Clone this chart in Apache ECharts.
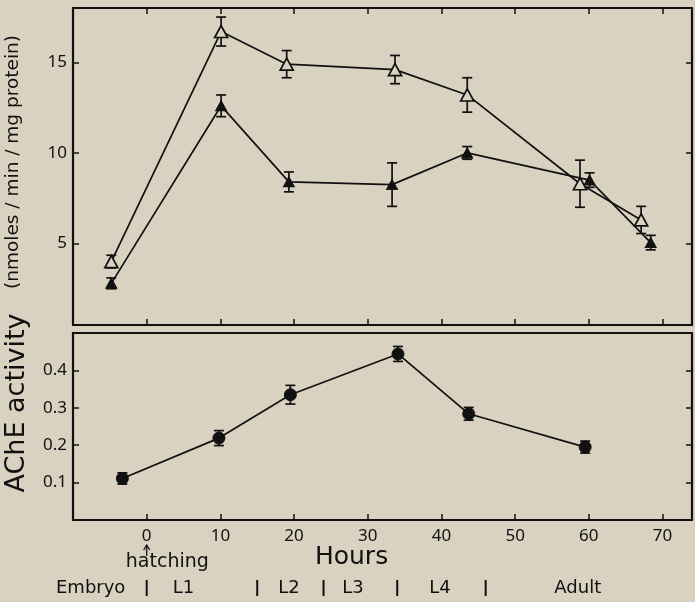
<!DOCTYPE html>
<html>
<head>
<meta charset="utf-8">
<script src="https://cdn.jsdelivr.net/npm/echarts@6/dist/echarts.min.js"></script>
<style>
html,body{margin:0;padding:0;background:#d9d2c0;}
#c{width:695px;height:602px;}
</style>
</head>
<body>
<div id="c"></div>
<script>
// ---- data ----
const openHours = [-4.8, 10.1, 19.0, 33.7, 43.5, 58.8, 67.1];
const openVals  = [4.0, 16.7, 14.9, 14.6, 13.2, 8.3, 6.3];
const openErr   = [0.35, 0.8, 0.75, 0.78, 0.95, 1.3, 0.75];

const filledHours = [-4.8, 10.1, 19.3, 33.3, 43.5, 60.1, 68.4];
const filledVals  = [2.8, 12.6, 8.4, 8.25, 10.0, 8.5, 5.05];
const filledErr   = [0.3, 0.6, 0.55, 1.2, 0.35, 0.4, 0.4];

const circHours = [-3.3, 9.8, 19.5, 34.1, 43.7, 59.5];
const circVals  = [0.111, 0.219, 0.335, 0.444, 0.284, 0.195];
const circErr   = [0.015, 0.02, 0.025, 0.02, 0.017, 0.016];

const xTicks = [0, 10, 20, 30, 40, 50, 60, 70];
const topYTicks = [5, 10, 15];
const botYTicks = [0.1, 0.2, 0.3, 0.4];

const stageLabels = ['Embryo', 'L1', 'L2', 'L3', 'L4', 'Adult'];
const stageLabelHours = [-7.6, 5, 19.3, 28, 39.8, 58.5];
const stageBounds = [0, 15, 24, 34, 46];

// ---- helpers ----
const INK = '#111';
const BG = '#d9d2c0';
const FONT = 'Noto Sans';
function pts(xs, ys) { return xs.map((x, i) => [x, ys[i]]); }
function errData(xs, ys, es) { return xs.map((x, i) => [x, ys[i], es[i]]); }
function errSeries(xi, yi, data) {
  return {
    type: 'custom', xAxisIndex: xi, yAxisIndex: yi, z: 3,
    data: data,
    renderItem: function (params, api) {
      const x = api.value(0), y = api.value(1), e = api.value(2);
      const hi = api.coord([x, y + e]);
      const lo = api.coord([x, y - e]);
      const w = 5;
      const st = { stroke: INK, lineWidth: 1.7 };
      return {
        type: 'group',
        children: [
          { type: 'line', shape: { x1: hi[0], y1: hi[1], x2: lo[0], y2: lo[1] }, style: st },
          { type: 'line', shape: { x1: hi[0] - w, y1: hi[1], x2: hi[0] + w, y2: hi[1] }, style: st },
          { type: 'line', shape: { x1: lo[0] - w, y1: lo[1], x2: lo[0] + w, y2: lo[1] }, style: st }
        ]
      };
    }
  };
}

const XMIN = -10, XMAX = 74;
const axLine = { show: true, onZero: false, lineStyle: { color: INK, width: 2.2 } };
function xAx(grid, pos, opts) {
  return Object.assign({
    type: 'value', gridIndex: grid, position: pos, min: XMIN, max: XMAX,
    axisLine: axLine, splitLine: { show: false },
    axisTick: { show: true, inside: true, length: 6, lineStyle: { color: INK, width: 1.5 }, customValues: xTicks },
    axisLabel: { show: false }
  }, opts || {});
}
function yAx(grid, pos, min, max, ticks, opts) {
  return Object.assign({
    type: 'value', gridIndex: grid, position: pos, min: min, max: max,
    axisLine: axLine, splitLine: { show: false },
    axisTick: { show: true, inside: true, length: 6, lineStyle: { color: INK, width: 1.5 }, customValues: ticks },
    axisLabel: { show: false }
  }, opts || {});
}
const labelStyle = { color: INK, fontFamily: FONT, fontSize: 17 };

const chart = echarts.init(document.getElementById('c'), null, { renderer: 'canvas' });
chart.setOption({
  backgroundColor: BG,
  animation: false,
  grid: [
    { left: 73, right: 3, top: 8, height: 317 },
    { left: 73, right: 3, top: 333, height: 187 }
  ],
  xAxis: [
    xAx(0, 'bottom'),
    xAx(0, 'top'),
    xAx(1, 'bottom', {
      axisLabel: Object.assign({ show: true, margin: 8, customValues: xTicks }, labelStyle)
    }),
    xAx(1, 'top', { axisTick: { show: false } })
  ],
  yAxis: [
    yAx(0, 'left', 0.5, 18, topYTicks, {
      axisLabel: Object.assign({ show: true, margin: 6, customValues: topYTicks }, labelStyle)
    }),
    yAx(0, 'right', 0.5, 18, topYTicks),
    yAx(1, 'left', 0, 0.5, botYTicks, {
      axisLabel: Object.assign({ show: true, margin: 6, customValues: botYTicks,
        formatter: v => String(v) }, labelStyle)
    }),
    yAx(1, 'right', 0, 0.5, botYTicks)
  ],
  series: [
    errSeries(0, 0, errData(openHours, openVals, openErr)),
    errSeries(0, 0, errData(filledHours, filledVals, filledErr)),
    errSeries(2, 2, errData(circHours, circVals, circErr)),
    {
      type: 'line', xAxisIndex: 0, yAxisIndex: 0, z: 4,
      data: pts(openHours, openVals),
      symbol: 'triangle', symbolSize: [13, 12],
      itemStyle: { color: BG, borderColor: INK, borderWidth: 1.7 },
      lineStyle: { color: INK, width: 1.7 }
    },
    {
      type: 'line', xAxisIndex: 0, yAxisIndex: 0, z: 4,
      data: pts(filledHours, filledVals),
      symbol: 'triangle', symbolSize: [11, 10],
      itemStyle: { color: INK, borderColor: INK, borderWidth: 1 },
      lineStyle: { color: INK, width: 1.7 }
    },
    {
      type: 'line', xAxisIndex: 2, yAxisIndex: 2, z: 4,
      data: pts(circHours, circVals),
      symbol: 'circle', symbolSize: 12,
      itemStyle: { color: INK, borderColor: INK, borderWidth: 1 },
      lineStyle: { color: INK, width: 1.7 }
    }
  ]
});

// ---- annotations placed through the x scale ----
function px(h) { return chart.convertToPixel({ xAxisIndex: 2 }, h); }
const g = [];
const x0 = px(0);
g.push({ type: 'text', x: px(2.8), y: 562, style: { text: 'hatching', fill: INK, font: '19px "DejaVu Sans"', align: 'center', verticalAlign: 'middle' } });
g.push({ type: 'line', shape: { x1: x0, y1: 556, x2: x0, y2: 546 }, style: { stroke: INK, lineWidth: 1.3 } });
g.push({ type: 'polyline', shape: { points: [[x0 - 3, 550], [x0, 545], [x0 + 3, 550]] }, style: { stroke: INK, lineWidth: 1.3, fill: null } });
g.push({ type: 'text', x: px(27.8), y: 557, style: { text: 'Hours', fill: INK, font: '25px "DejaVu Sans"', align: 'center', verticalAlign: 'middle' } });
stageLabels.forEach((s, i) => {
  g.push({ type: 'text', x: px(stageLabelHours[i]), y: 588, style: { text: s, fill: INK, font: '18px "DejaVu Sans"', align: 'center', verticalAlign: 'middle' } });
});
stageBounds.forEach(h => {
  g.push({ type: 'line', shape: { x1: px(h), y1: 580, x2: px(h), y2: 596 }, style: { stroke: INK, lineWidth: 2 } });
});
g.push({ type: 'text', x: 17, y: 403, rotation: Math.PI / 2, style: { text: 'AChE activity', fill: INK, font: '27px "DejaVu Sans"', align: 'center', verticalAlign: 'middle' } });
g.push({ type: 'text', x: 13, y: 162, rotation: Math.PI / 2, style: { text: '(nmoles / min / mg protein)', fill: INK, font: '18.5px "DejaVu Sans"', align: 'center', verticalAlign: 'middle' } });
chart.setOption({ graphic: g });
</script>
</body>
</html>
